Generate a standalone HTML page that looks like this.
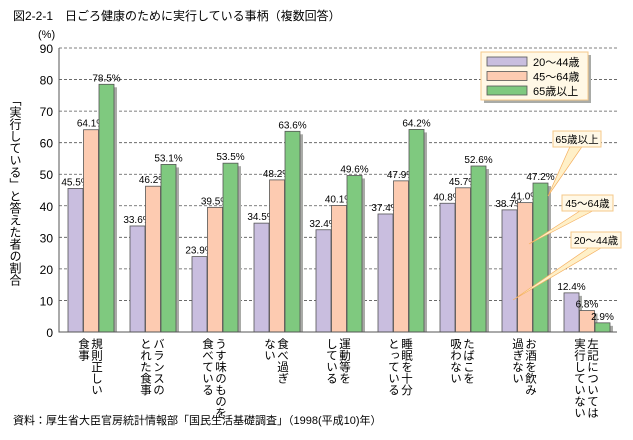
<!DOCTYPE html>
<html><head><meta charset="utf-8"><style>
body{margin:0;background:#fff;font-family:"Liberation Sans","Noto Sans CJK JP",sans-serif;}
svg text{font-family:"Liberation Sans","Noto Sans CJK JP",sans-serif;}
</style></head><body>
<svg id="c" width="633" height="435" xmlns="http://www.w3.org/2000/svg">
<text x="13" y="20" font-size="12">図2-2-1　日ごろ健康のために実行している事柄（複数回答）</text>
<text x="38" y="38" font-size="11">(%)</text>
<text x="15" y="190" font-size="12" writing-mode="tb" text-anchor="middle">「実行している」と答えた者の割合</text>
<text x="13" y="424" font-size="11">資料：厚生省大臣官房統計情報部「国民生活基礎調査」（1998(平成10)年）</text>
<g id="plot"></g>
</svg>
<script>
const categories=[["規則正しい","食事"],["バランスの","とれた食事"],["うす味のものを","食べている"],["食べ過ぎ","ない"],["運動等を","している"],["睡眠を十分","とっている"],["たばこを","吸わない"],["お酒を飲み","過ぎない"],["左記については","実行していない"]];
const s1=[45.5,33.6,23.9,34.5,32.4,37.4,40.8,38.7,12.4];
const s2=[64.1,46.2,39.5,48.2,40.1,47.9,45.7,41.0,6.8];
const s3=[78.5,53.1,53.5,63.6,49.6,64.2,52.6,47.2,2.9];
const yTicks=[0,10,20,30,40,50,60,70,80,90];
const seriesNames=["20～44歳","45～64歳","65歳以上"];
const colors=["#c9bedf","#fdcbb1","#7fc97f"];
const NS="http://www.w3.org/2000/svg";
const g=document.getElementById('plot');
const X0=59,X1=617,Y0=332,Y90=48;
const y=v=>Y0-(v/90)*(Y0-Y90);
const gw=(X1-X0)/categories.length;
function el(t,a,p){const e=document.createElementNS(NS,t);for(const k in a)e.setAttribute(k,a[k]);(p||g).appendChild(e);return e;}
yTicks.forEach(t=>{
 if(t>0){const l=el('line',{x1:X0,x2:X1,y1:y(t),y2:y(t),stroke:'#555','stroke-dasharray':'3,2','stroke-width':0.8});
 
 }
 const tx=el('text',{x:X0-6,y:y(t)+5,'font-size':12,'text-anchor':'end'});tx.textContent=t;
 
 
});
const series=[s1,s2,s3];
categories.forEach((c,i)=>{
 const gx=X0+i*gw;
 series.forEach((s,j)=>{
  const bx=gx+9+j*15.5,v=s[i];
  const sh=el('rect',{x:bx+3,y:y(v)+3,width:15,height:Y0-y(v)-3,fill:'#a9aba7'});
  
  
  const r=el('rect',{x:bx,y:y(v),width:15,height:Y0-y(v),fill:colors[j],stroke:'#555','stroke-width':0.8});
  
  
  const t=el('text',{x:bx+7.5,y:y(v)-3,'font-size':10,'text-anchor':'middle'});t.textContent=v.toFixed(1)+'%';
  
  
 });
 const cx=gx+gw/2;
 c.forEach((line,k)=>{
  const t=el('text',{x:cx+6-k*13,y:338,'font-size':11.5,'writing-mode':'tb'});t.textContent=line;
  
  
 });
});
const ax=el('path',{d:`M${X0} ${Y90} V${Y0} H${X1}`,fill:'none',stroke:'#555','stroke-width':1});


// legend
const lg=el('g',{});


el('rect',{x:484,y:55,width:107,height:48,fill:'#a9aba7'},lg);
el('rect',{x:481,y:52,width:107,height:48,fill:'#fff8e6',stroke:'#f5c88a'},lg);
seriesNames.forEach((n,j)=>{
 el('rect',{x:487,y:57+j*14.5,width:40,height:9,fill:colors[j],stroke:'#555','stroke-width':0.8},lg);
 const t=el('text',{x:533,y:66+j*14.5,'font-size':11},lg);t.textContent=n;
 
 
});
// callouts
const co=[[553,131,48,'65歳以上',548,196],[562,195,51,'45～64歳',529,244],[571,232,50,'20～44歳',513,300]];
co.forEach(a=>{
 const [bx,by,bw,txt,px,py]=a;
 el('path',{d:`M${bx+bw*0.35} ${by+16} L${px} ${py} L${bx+bw*0.6} ${by+16}Z`,fill:'#fff0c8',stroke:'#f5b060','stroke-width':0.7});
 el('rect',{x:bx,y:by,width:bw,height:16,fill:'#fff8e6',stroke:'#f5c88a'});
 const t=el('text',{x:bx+bw/2,y:by+12,'font-size':10.5,'text-anchor':'middle'});t.textContent=txt;
 
 
});
</script>
</body></html>
